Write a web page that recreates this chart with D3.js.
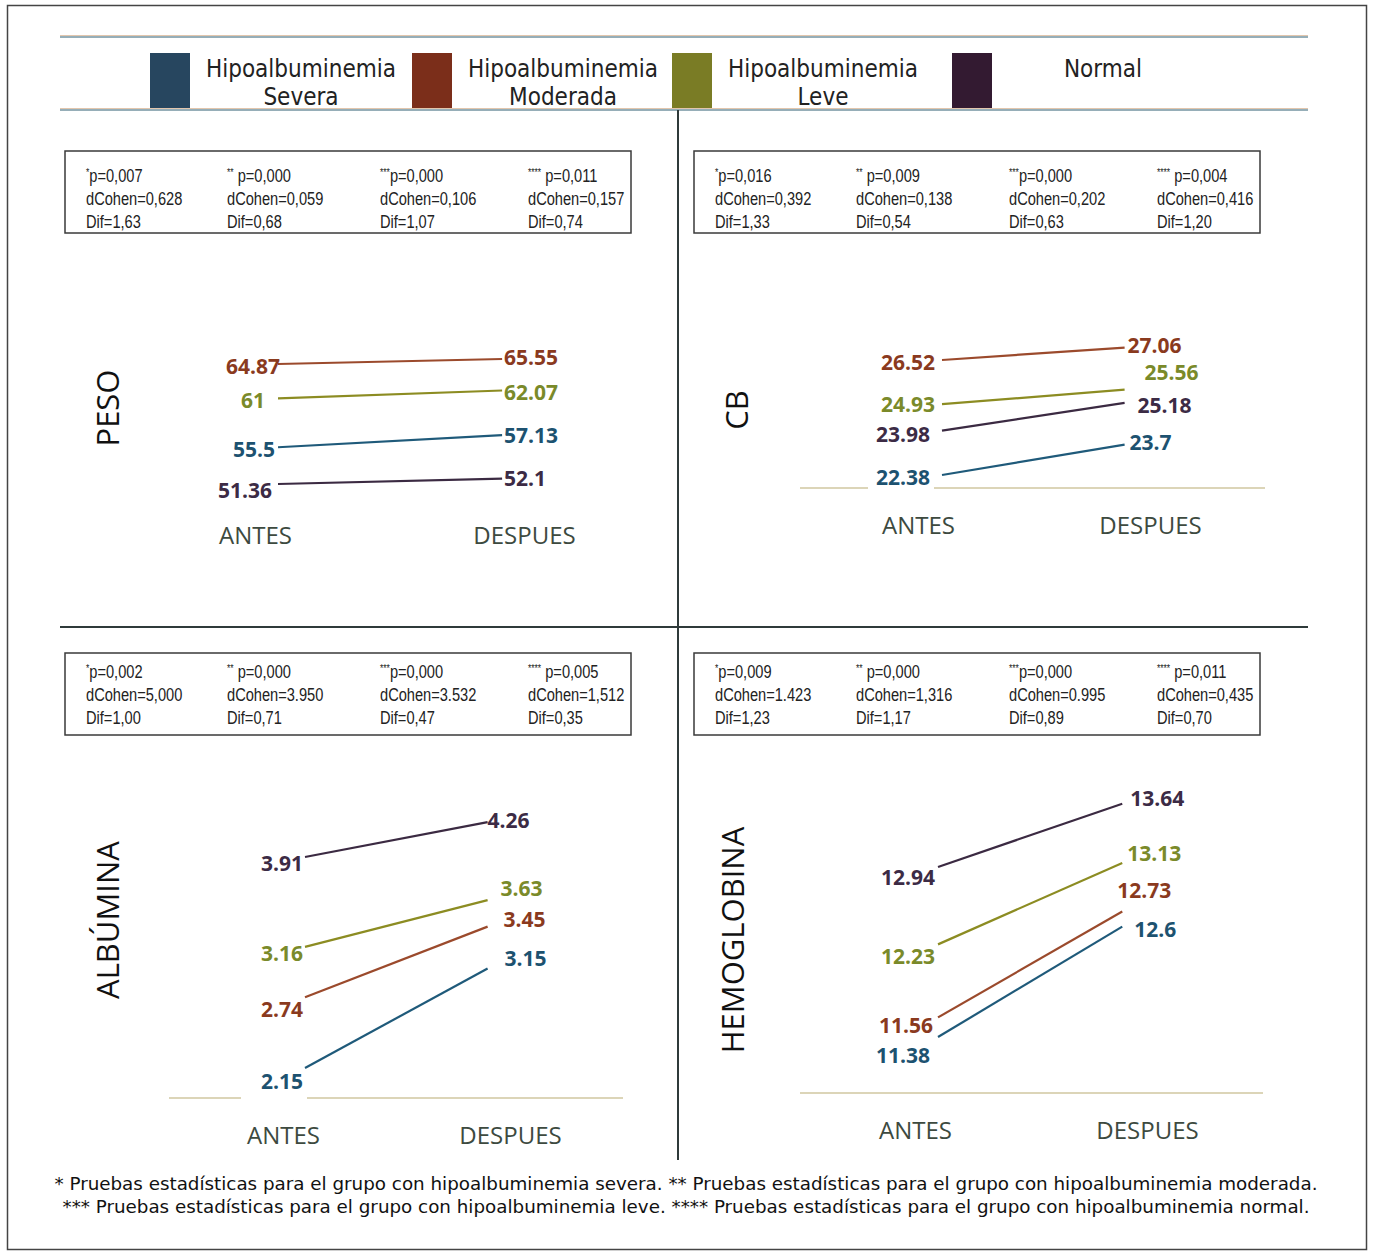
<!DOCTYPE html>
<html>
<head>
<meta charset="utf-8">
<script src="https://cdn.jsdelivr.net/npm/d3@7/dist/d3.min.js"></script>
<style>
  body { margin: 0; background: #fff; }
</style>
</head>
<body>
<div id="chart"></div>
<script>
// Groups and periods
const groups = ['Hipoalbuminemia Severa', 'Hipoalbuminemia Moderada', 'Hipoalbuminemia Leve', 'Normal'];
const legendLines = [['Hipoalbuminemia', 'Severa'], ['Hipoalbuminemia', 'Moderada'], ['Hipoalbuminemia', 'Leve'], ['Normal']];
const periods = ['ANTES', 'DESPUES'];
const stars = ['*', '**', '***', '****'];

// Values (order: severa, moderada, leve, normal)
const pesoAntes = [55.5, 64.87, 61, 51.36];
const pesoDespues = [57.13, 65.55, 62.07, 52.1];
const cbAntes = [22.38, 26.52, 24.93, 23.98];
const cbDespues = [23.7, 27.06, 25.56, 25.18];
const albAntes = [2.15, 2.74, 3.16, 3.91];
const albDespues = [3.15, 3.45, 3.63, 4.26];
const hemoAntes = [11.38, 11.56, 12.23, 12.94];
const hemoDespues = [12.6, 12.73, 13.13, 13.64];

// Statistical tests
const pesoP = ['0,007', '0,000', '0,000', '0,011'];
const pesoD = ['0,628', '0,059', '0,106', '0,157'];
const pesoDif = ['1,63', '0,68', '1,07', '0,74'];
const cbP = ['0,016', '0,009', '0,000', '0,004'];
const cbD = ['0,392', '0,138', '0,202', '0,416'];
const cbDif = ['1,33', '0,54', '0,63', '1,20'];
const albP = ['0,002', '0,000', '0,000', '0,005'];
const albD = ['5,000', '3.950', '3.532', '1,512'];
const albDif = ['1,00', '0,71', '0,47', '0,35'];
const hemoP = ['0,009', '0,000', '0,000', '0,011'];
const hemoD = ['1.423', '1,316', '0.995', '0,435'];
const hemoDif = ['1,23', '1,17', '0,89', '0,70'];

const footnotes = [
  '* Pruebas estadísticas para el grupo con hipoalbuminemia severa. ** Pruebas estadísticas para el grupo con hipoalbuminemia moderada.',
  '*** Pruebas estadísticas para el grupo con hipoalbuminemia leve. **** Pruebas estadísticas para el grupo con hipoalbuminemia normal.'
];

// Styles
const lineColors = ['#1f5a7a', '#9b4a2c', '#8c8c22', '#3b2a42'];
const labelColors = ['#1d5270', '#8a3a1e', '#7a8a2a', '#3c2b45'];
const swatchColors = ['#27465f', '#7b2e1a', '#7a7c25', '#331a31'];

const width = 1373;
const height = 1256;

const svg = d3.select('#chart').append('svg')
    .attr('width', width)
    .attr('height', height);

// outer frame
svg.append('rect')
    .attr('x', 7.5).attr('y', 5.5)
    .attr('width', 1359).attr('height', 1244)
    .attr('fill', 'none').attr('stroke', '#444').attr('stroke-width', 1.5);

// legend rules
[37, 110].forEach(y => {
  svg.append('line').attr('x1', 60).attr('x2', 1308).attr('y1', y - 1.5).attr('y2', y - 1.5)
      .attr('stroke', '#e2c6ad').attr('stroke-width', 1);
  svg.append('line').attr('x1', 60).attr('x2', 1308).attr('y1', y).attr('y2', y)
      .attr('stroke', '#7393a0').attr('stroke-width', 1.6);
});

// legend
const legendX = [150, 412, 672, 952];
const legend = svg.append('g').selectAll('g')
    .data(groups)
    .enter().append('g')
    .attr('transform', (d, i) => `translate(${legendX[i]},0)`);

legend.append('rect')
    .attr('x', 0).attr('y', 53)
    .attr('width', 40).attr('height', 55)
    .attr('fill', (d, i) => swatchColors[i]);

legend.append('text')
    .attr('x', 151)
    .attr('text-anchor', 'middle')
    .attr('font-family', '"DejaVu Sans Condensed", "DejaVu Sans", sans-serif')
    .attr('font-size', 24)
    .attr('fill', '#222')
    .selectAll('tspan')
    .data((d, i) => legendLines[i])
    .enter().append('tspan')
    .attr('x', 151)
    .attr('y', (d, j) => 77 + j * 28)
    .text(d => d);

// dividers
svg.append('line').attr('x1', 678).attr('x2', 678).attr('y1', 110).attr('y2', 1160)
    .attr('stroke', '#2f3a3a').attr('stroke-width', 2);
svg.append('line').attr('x1', 60).attr('x2', 1308).attr('y1', 627).attr('y2', 627)
    .attr('stroke', '#2f3a3a').attr('stroke-width', 2);

// panels
const panels = [
  { title: 'PESO', antes: pesoAntes, despues: pesoDespues, p: pesoP, d: pesoD, dif: pesoDif,
    titlePos: [108, 408], box: [65, 151], textTop: 31, line: [278, 548], yRange: [484, 364],
    cat: [255, 524], catY: 545, base: null,
    leftNudge: [[-3, 2], [2, 2], [-13, 2], [-6, 6]], rightNudge: [[2, 0], [2, -2], [2, 2], [2, 0]] },
  { title: 'CB', antes: cbAntes, despues: cbDespues, p: cbP, d: cbD, dif: cbDif,
    titlePos: [737, 410], box: [694, 151], textTop: 31, line: [942, 1162], yRange: [475, 360],
    cat: [918, 1150], catY: 535, base: [800, 1265, 488],
    leftNudge: [[-12, 2], [-7, 2], [-7, 0], [-12, 4]], rightNudge: [[5, -2], [3, -2], [20, -17], [13, 3]] },
  { title: 'ALBÚMINA', antes: albAntes, despues: albDespues, p: albP, d: albD, dif: albDif,
    titlePos: [108, 920], box: [65, 653], textTop: 25, line: [305, 525], yRange: [1068, 857],
    cat: [283, 510], catY: 1145, base: [169, 623, 1098],
    leftNudge: [[-2, 13], [-2, 12], [-2, 7], [-2, 6]], rightNudge: [[17, -10], [16, -7], [13, -12], [0, -2]] },
  { title: 'HEMOGLOBINA', antes: hemoAntes, despues: hemoDespues, p: hemoP, d: hemoD, dif: hemoDif,
    titlePos: [733, 940], box: [694, 653], textTop: 25, line: [938, 1160], yRange: [1037, 867],
    cat: [915, 1147], catY: 1140, base: [800, 1263, 1093],
    leftNudge: [[-8, 18], [-5, 8], [-3, 12], [-3, 10]], rightNudge: [[12, 3], [-5, -21], [5, -10], [8, -5]] }
];

const lineFrac = 0.83;
const statCols = [21, 162, 315, 463];

panels.forEach(pn => {
  const g = svg.append('g');

  // stats box
  g.append('rect')
      .attr('x', pn.box[0]).attr('y', pn.box[1])
      .attr('width', 566).attr('height', 82)
      .attr('fill', 'none').attr('stroke', '#3a3a3a').attr('stroke-width', 1.5);

  groups.forEach((grp, i) => {
    const x0 = pn.box[0] + statCols[i];
    const y0 = pn.box[1] + pn.textTop;
    const t = g.append('g')
        .attr('transform', `translate(${x0},${y0}) scale(0.77,1)`)
        .append('text')
        .attr('font-family', '"Liberation Sans", Arial, sans-serif')
        .attr('font-size', 19)
        .attr('fill', '#222');
    const l1 = t.append('tspan').attr('x', 0).attr('y', 0);
    l1.append('tspan').attr('font-size', 11).attr('dy', -6).text(stars[i]);
    l1.append('tspan').attr('dy', 6).text((i === 0 || i === 2 ? '' : ' ') + 'p=' + pn.p[i]);
    t.append('tspan').attr('x', 0).attr('y', 23).text('dCohen=' + pn.d[i]);
    t.append('tspan').attr('x', 0).attr('y', 46).text('Dif=' + pn.dif[i]);
  });

  // title
  g.append('text')
      .attr('transform', `translate(${pn.titlePos[0]},${pn.titlePos[1]}) rotate(-90)`)
      .attr('text-anchor', 'middle')
      .attr('dy', '0.36em')
      .attr('font-family', '"Open Sans", sans-serif')
      .attr('font-size', 31)
      .attr('fill', '#111')
      .text(pn.title);

  // scales
  const xScale = d3.scalePoint().domain(periods).range(pn.line);
  const yScale = d3.scaleLinear().domain(d3.extent(pn.antes)).range(pn.yRange);
  const catScale = d3.scalePoint().domain(periods).range(pn.cat);

  // baseline
  if (pn.base) {
    g.append('line')
        .attr('x1', pn.base[0]).attr('x2', pn.base[1])
        .attr('y1', pn.base[2]).attr('y2', pn.base[2])
        .attr('stroke', '#dcd5b8').attr('stroke-width', 2);
  }

  const rows = groups.map((grp, i) => {
    const xa = xScale('ANTES'), ya = yScale(pn.antes[i]);
    const xd = xScale('DESPUES'), yd = yScale(pn.despues[i]);
    return {
      i, a: pn.antes[i], d: pn.despues[i],
      x1: xa, y1: ya,
      x2: xa + (xd - xa) * lineFrac, y2: ya + (yd - ya) * lineFrac
    };
  });

  // white boxes behind left labels
  g.selectAll('.lbg').data(rows).enter().append('rect')
      .attr('x', d => d.x1 + pn.leftNudge[d.i][0] - 62)
      .attr('y', d => d.y1 + pn.leftNudge[d.i][1] - 11)
      .attr('width', 66).attr('height', 30)
      .attr('fill', '#fff');

  // lines
  g.selectAll('.slope').data(rows).enter().append('line')
      .attr('x1', d => d.x1).attr('y1', d => d.y1)
      .attr('x2', d => d.x2).attr('y2', d => d.y2)
      .attr('stroke', d => lineColors[d.i])
      .attr('stroke-width', 2.2);

  // value labels
  g.selectAll('.lval').data(rows).enter().append('text')
      .attr('x', d => d.x1 + pn.leftNudge[d.i][0])
      .attr('y', d => d.y1 + pn.leftNudge[d.i][1])
      .attr('dy', '0.36em')
      .attr('text-anchor', 'end')
      .attr('font-family', '"Open Sans", sans-serif')
      .attr('font-weight', 'bold')
      .attr('font-size', 21)
      .attr('fill', d => labelColors[d.i])
      .text(d => d.a);

  g.selectAll('.rval').data(rows).enter().append('text')
      .attr('x', d => d.x2 + pn.rightNudge[d.i][0])
      .attr('y', d => d.y2 + pn.rightNudge[d.i][1])
      .attr('dy', '0.36em')
      .attr('text-anchor', 'start')
      .attr('font-family', '"Open Sans", sans-serif')
      .attr('font-weight', 'bold')
      .attr('font-size', 21)
      .attr('fill', d => labelColors[d.i])
      .text(d => d.d);

  // category axis
  const catAxis = d3.axisBottom(catScale).tickSize(0).tickPadding(0);
  const ax = g.append('g')
      .attr('transform', `translate(0,${pn.catY - 18})`)
      .call(catAxis);
  ax.select('.domain').remove();
  ax.selectAll('text')
      .attr('font-family', '"Open Sans", sans-serif')
      .attr('font-size', 24)
      .attr('fill', '#3d4a3f');
});

// footnotes
svg.append('g').selectAll('text')
    .data(footnotes)
    .enter().append('text')
    .attr('x', 686)
    .attr('y', (d, i) => 1190 + i * 23)
    .attr('text-anchor', 'middle')
    .attr('font-family', '"DejaVu Sans Condensed", "DejaVu Sans", sans-serif')
    .attr('font-size', 17)
    .attr('fill', '#111')
    .attr('textLength', (d, i) => i === 0 ? 1263 : 1247)
    .attr('lengthAdjust', 'spacingAndGlyphs')
    .text(d => d);
</script>
</body>
</html>
